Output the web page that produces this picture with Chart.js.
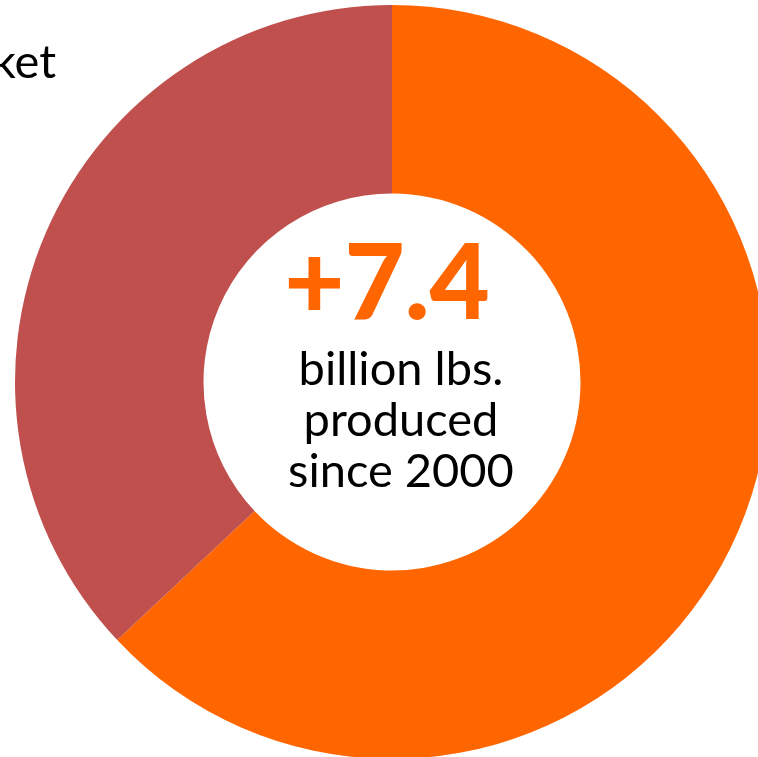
<!DOCTYPE html>
<html>
<head>
<meta charset="utf-8">
<script src="https://cdn.jsdelivr.net/npm/chart.js@4"></script>
<style>
  html, body { margin: 0; padding: 0; overflow: hidden; background: #fff; }
  #wrap { position: absolute; left: 0; top: 0; width: 784px; height: 764px; }
</style>
</head>
<body>
<div id="wrap"><canvas id="myChart"></canvas></div>
<script>
const labels = ['Produced since 2000', 'Market'];
const values = [63, 37];
const colors = ['#FF6600', '#C0504D'];

const bigNumber = '+7.4';
const centerLines = ['billion lbs.', 'produced', 'since 2000'];
const cornerLabel = 'ket';

const FONT = 'Lato, "Open Sans", sans-serif';

// writes the headline number and caption in the hole
const centerText = {
    id: 'centerText',
    afterDraw(chart) {
        const c = chart.ctx;
        const a = chart.chartArea;
        const cx = (a.left + a.right) / 2;
        const cy = (a.top + a.bottom) / 2;
        c.save();
        c.textAlign = 'center';
        c.textBaseline = 'alphabetic';
        c.fillStyle = colors[0];
        c.font = '900 104px ' + FONT;
        c.fillText(bigNumber, cx - 5, cy - 63);
        c.fillStyle = '#000';
        c.font = '47px ' + FONT;
        centerLines.forEach((t, i) => c.fillText(t, cx + 9, cy + 3 + i * 51));
        c.textAlign = 'right';
        c.fillText(cornerLabel, 56, 78);
        c.restore();
    }
};

new Chart(document.getElementById('myChart').getContext('2d'), {
    type: 'doughnut',
    data: {
        labels: labels,
        datasets: [{
            data: values,
            backgroundColor: colors,
            borderWidth: 0
        }]
    },
    options: {
        responsive: true,
        maintainAspectRatio: false,
        animation: false,
        cutout: '50%',
        layout: { padding: { top: 5, bottom: 5, left: 15, right: 15 } },
        plugins: {
            legend: { display: false },
            tooltip: { enabled: false }
        }
    },
    plugins: [centerText]
});
</script>
</body>
</html>
